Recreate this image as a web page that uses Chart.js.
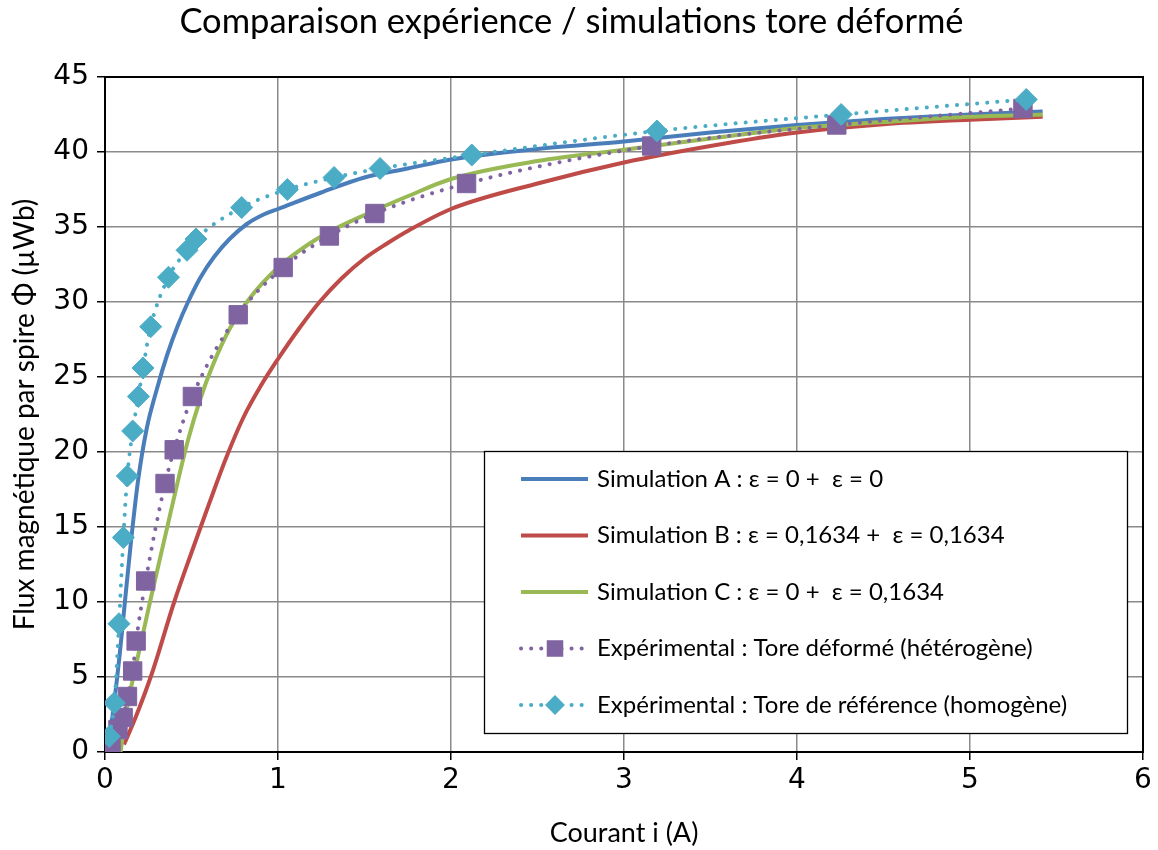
<!DOCTYPE html>
<html><head><meta charset="utf-8">
<script src="https://cdn.jsdelivr.net/npm/chart.js@4.4.1/dist/chart.umd.min.js"></script>
<style>html,body{margin:0;padding:0;background:#fff}#wrap{width:1158px;height:850px}</style>
</head><body><div id="wrap"><canvas id="c" width="1158" height="850"></canvas></div>
<script>
// ---- data ----
const seriesNames = [
  "Simulation A : \u03b5 = 0 + \u00a0\u03b5 = 0",
  "Simulation B : \u03b5 = 0,1634 + \u00a0\u03b5 = 0,1634",
  "Simulation C : \u03b5 = 0 + \u00a0\u03b5 = 0,1634",
  "Exp\u00e9rimental : Tore d\u00e9form\u00e9 (h\u00e9t\u00e9rog\u00e8ne)",
  "Exp\u00e9rimental : Tore de r\u00e9f\u00e9rence (homog\u00e8ne)"
];
const simAx = [0.015, 0.05, 0.085, 0.115, 0.15, 0.19, 0.24, 0.3, 0.36, 0.42, 0.48, 0.55, 0.63, 0.72, 0.82, 0.92, 1.0, 1.25, 1.5, 1.75, 2.0, 2.5, 3.0, 3.5, 4.0, 4.5, 5.0, 5.42];
const simAy = [0, 3, 6.5, 10, 14, 18, 21.5, 24.2, 26.5, 28.4, 30, 31.6, 33.0, 34.2, 35.2, 35.85, 36.2, 37.3, 38.3, 38.9, 39.5, 40.2, 40.7, 41.3, 41.8, 42.2, 42.5, 42.7];
const simBx = [0.11, 0.18, 0.27, 0.4, 0.5, 0.6, 0.7, 0.8, 0.9, 1.0, 1.12, 1.24, 1.37, 1.5, 1.63, 1.76, 2.0, 2.5, 3.0, 3.5, 4.0, 4.5, 5.0, 5.42];
const simBy = [0.5, 2.4, 5.2, 10, 13.3, 16.5, 19.6, 22.3, 24.4, 26.2, 28.2, 30, 31.6, 32.9, 33.9, 34.8, 36.2, 37.9, 39.3, 40.4, 41.3, 41.85, 42.15, 42.35];
const simCx = [0.09, 0.125, 0.164, 0.26, 0.36, 0.42, 0.48, 0.55, 0.62, 0.72, 0.84, 1.0, 1.17, 1.3, 1.5, 1.76, 2.0, 2.5, 3.0, 3.5, 4.0, 4.5, 5.0, 5.42];
const simCy = [0, 2.8, 5, 10, 15, 18, 20.8, 23.5, 25.7, 28.2, 30.3, 32.3, 33.8, 34.7, 35.8, 37.1, 38.2, 39.4, 40.15, 40.9, 41.6, 42.0, 42.35, 42.5];
const expDefX = [0.035, 0.075, 0.105, 0.13, 0.16, 0.18, 0.235, 0.347, 0.40, 0.505, 0.77, 1.03, 1.297, 1.56, 2.09, 3.16, 4.23, 5.306];
const expDefY = [0.4, 1.5, 2.3, 3.7, 5.4, 7.4, 11.4, 17.9, 20.15, 23.7, 29.15, 32.3, 34.4, 35.9, 37.9, 40.4, 41.8, 42.9];
const expRefX = [0.025, 0.054, 0.081, 0.106, 0.129, 0.16, 0.193, 0.22, 0.264, 0.367, 0.474, 0.526, 0.79, 1.054, 1.324, 1.59, 2.12, 3.19, 4.255, 5.325];
const expRefY = [1.04, 3.27, 8.55, 14.3, 18.4, 21.4, 23.7, 25.6, 28.35, 31.65, 33.45, 34.2, 36.3, 37.5, 38.3, 38.9, 39.8, 41.4, 42.5, 43.5];
const xTicks = [0, 1, 2, 3, 4, 5, 6];
const yTicks = [0, 5, 10, 15, 20, 25, 30, 35, 40, 45];

const pts = (xs, ys) => xs.map((x, i) => ({x: x, y: ys[i]}));

const colors = ['#4A7EBB', '#BE4B48', '#98B954', '#8064A2', '#4BACC6'];

function simDs(i, xs, ys, order) {
  return {label: seriesNames[i], data: pts(xs, ys), borderColor: colors[i], backgroundColor: colors[i],
    borderWidth: 4, pointRadius: 0, pointHoverRadius: 0, showLine: true, cubicInterpolationMode: 'monotone', order: order};
}
function expDs(i, xs, ys, style, r, order) {
  return {label: seriesNames[i], data: pts(xs, ys), borderColor: colors[i], backgroundColor: colors[i],
    borderWidth: 4, borderDash: [0.1, 10], borderCapStyle: 'round', showLine: true, cubicInterpolationMode: 'monotone',
    pointStyle: style, pointRadius: r, pointHoverRadius: r, pointBackgroundColor: colors[i], pointBorderColor: colors[i], pointBorderWidth: 1, order: order};
}

const datasets = [
  simDs(0, simAx, simAy, 5),
  simDs(1, simBx, simBy, 4),
  simDs(2, simCx, simCy, 3),
  expDs(3, expDefX, expDefY, 'rect', 13, 2),
  expDs(4, expRefX, expRefY, 'rectRot', 11, 1)
];

const frameLegend = {
  id: 'frameLegend',
  beforeDatasetsDraw(chart) {
    const {ctx, chartArea: a} = chart;
    ctx.save();
    ctx.strokeStyle = '#000'; ctx.lineWidth = 2;
    ctx.strokeRect(a.left, a.top, a.right - a.left, a.bottom - a.top);
    ctx.restore();
  },
  afterDraw(chart) {
    const ctx = chart.ctx;
    const x0 = 484, y0 = 451, w = 643, h = 282;
    ctx.save();
    ctx.fillStyle = '#fff'; ctx.fillRect(x0, y0, w, h);
    ctx.strokeStyle = '#000'; ctx.lineWidth = 1.3; ctx.strokeRect(x0 + 0.5, y0 + 0.5, w, h);
    chart.data.datasets.forEach((ds, i) => {
      const cy = y0 + 28 + i * 56.5;
      ctx.beginPath();
      ctx.setLineDash(ds.borderDash || []);
      ctx.lineCap = ds.borderCapStyle || 'butt';
      ctx.strokeStyle = ds.borderColor; ctx.lineWidth = ds.borderWidth;
      ctx.moveTo(521, cy); ctx.lineTo(588, cy); ctx.stroke();
      ctx.setLineDash([]);
      if (ds.pointRadius > 0) {
        ctx.fillStyle = ds.pointBackgroundColor;
        ctx.strokeStyle = ds.pointBorderColor;
        Chart.helpers.drawPoint(ctx, {pointStyle: ds.pointStyle, radius: ds.pointRadius * 0.9, rotation: 0, borderWidth: 0}, 555, cy);
      }
      ctx.fillStyle = '#000';
      ctx.font = '24px Lato';
      ctx.textBaseline = 'middle';
      ctx.textAlign = 'left';
      ctx.fillText(ds.label, 597, cy);
    });
    ctx.restore();
  }
};

new Chart(document.getElementById('c'), {
  type: 'scatter',
  data: {datasets: datasets},
  plugins: [frameLegend],
  options: {
    responsive: false, animation: false, devicePixelRatio: 1,
    layout: {padding: {left: 0, right: 15, top: 0, bottom: 0}},
    plugins: {
      legend: {display: false},
      tooltip: {enabled: false},
      title: {display: true, text: 'Comparaison exp\u00e9rience / simulations tore d\u00e9form\u00e9',
        color: '#000', font: {family: 'Lato', size: 34.5, weight: 'normal'}, padding: {top: 1, bottom: 34.6}}
    },
    scales: {
      x: {type: 'linear', min: 0, max: 6,
        afterBuildTicks: s => { s.ticks = xTicks.map(v => ({value: v})); },
        afterFit: s => { s.height = 98; },
        grid: {color: '#8a8a8a', lineWidth: 1.5, tickLength: 8, tickColor: '#000'},
        border: {color: '#000', width: 2},
        ticks: {color: '#000', font: {family: 'DejaVu Sans', size: 28}, padding: 4},
        title: {display: true, text: 'Courant i (A)', color: '#000', font: {family: 'Lato', size: 27}, padding: {top: 0, bottom: 1}}
      },
      y: {type: 'linear', min: 0, max: 45,
        afterBuildTicks: s => { s.ticks = yTicks.map(v => ({value: v})); },
        afterFit: s => { s.width = 105; },
        grid: {color: '#8a8a8a', lineWidth: 1.5, tickLength: 8, tickColor: '#000'},
        border: {color: '#000', width: 2},
        ticks: {color: '#000', font: {family: 'DejaVu Sans', size: 28}, padding: 8},
        title: {display: true, text: 'Flux magn\u00e9tique par spire \u03a6 (\u00b5Wb)', color: '#000', font: {family: 'Lato', size: 28}, padding: {top: 8, bottom: 0}}
      }
    }
  }
});
</script></body></html>
